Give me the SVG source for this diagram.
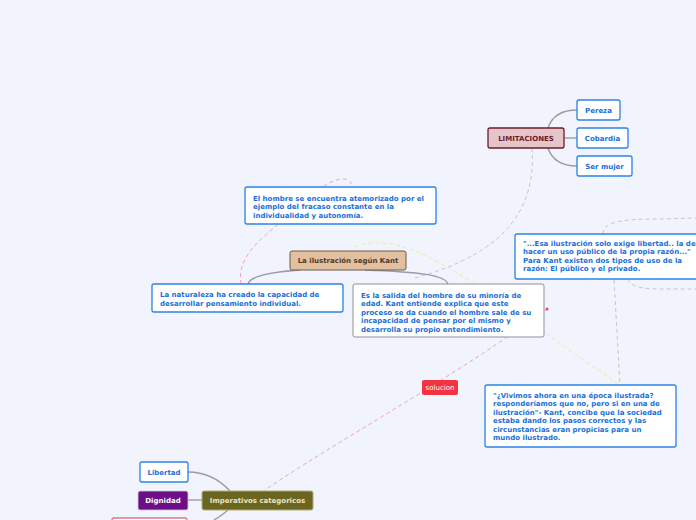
<svg xmlns="http://www.w3.org/2000/svg" width="696" height="520" viewBox="0 0 696 520">
<style>
.t{font-family:"DejaVu Sans",Verdana,sans-serif;font-weight:bold;font-size:7px;fill:#1a6fd8}
.box{fill:#ffffff;stroke:#2b82e6;stroke-width:1.3}
.c{fill:none;stroke:#9b9ba8;stroke-width:1.4}
.dg{fill:none;stroke:#c4c6d0;stroke-width:1;stroke-dasharray:4 3}
.dp{fill:none;stroke:#f0a4c4;stroke-width:1;stroke-dasharray:4 3}
.dy{fill:none;stroke:#f3ea9a;stroke-width:1;stroke-dasharray:4 3}
.ctr{text-anchor:middle}
</style>
<rect width="696" height="520" fill="#f1f4fc"/>
<g id="connectors">
<path class="dg" d="M532,148 C536,205 510,252 415,278"/>
<path class="dy" d="M355,247 C410,225 480,290 620,385"/>
<path class="dg" d="M614,280 L620,385"/>
<path class="dg" d="M603,234 C603,222 620,219 660,219 L696,218"/>
<path class="dg" d="M628,279 C630,286 640,289 660,289 L696,289"/>
<path class="dp" d="M241,284 C236,255 265,235 290,215 C315,195 325,180 343,179 C352,179 352,184 350,188"/>
<path class="dp" d="M262,492 C330,445 450,380 547,309"/>
<circle cx="547" cy="309" r="1.5" fill="#f04060"/>
<path class="c" d="M548,128 C552,116 562,110 577,110"/>
<path class="c" d="M564,138 L577,138"/>
<path class="c" d="M548,148 C552,160 562,166 577,166"/>
<path class="c" d="M248,284 C250,276 270,272 300,270"/>
<path class="c" d="M365,270 C420,272 445,275 448,284"/>
<path class="c" d="M188,472 C205,472 218,478 230,491"/>
<path class="c" d="M188,500 L202,500"/>
<path class="c" d="M228,510 C222,515 218,518 214,520"/>
</g>
<g id="limitaciones">
<rect x="488" y="128" width="76" height="20" rx="2" fill="#e6c5ca" stroke="#6e1b2c" stroke-width="1.3"/>
<text x="526" y="140.5" class="t ctr" style="fill:#6e1b2c">LIMITACIONES</text>
</g>
<g id="pereza">
<rect x="577" y="100" width="43" height="20" rx="2" class="box"/>
<text x="598.5" y="112.5" class="t ctr">Pereza</text>
</g>
<g id="cobardia">
<rect x="577" y="128" width="51" height="20" rx="2" class="box"/>
<text x="602.5" y="140.5" class="t ctr">Cobardia</text>
</g>
<g id="ser-mujer">
<rect x="577" y="156" width="55" height="20" rx="2" class="box"/>
<text x="604.5" y="168.5" class="t ctr">Ser mujer</text>
</g>
<g id="hombre">
<rect x="245" y="187" width="191" height="37" rx="2" class="box"/>
<text class="t"><tspan x="253" y="200.5">El hombre se encuentra atemorizado por el</tspan><tspan x="253" y="209">ejemplo del fracaso constante en la</tspan><tspan x="253" y="217.5">individualidad y autonomía.</tspan></text>
</g>
<g id="central">
<rect x="290" y="251" width="116" height="19" rx="2" fill="#e2bf9f" stroke="#6b5a48" stroke-width="1"/>
<text x="348" y="263" class="t ctr" style="fill:#4d3a28">La ilustración según Kant</text>
</g>
<g id="naturaleza">
<rect x="152" y="284" width="191" height="28" rx="2" class="box"/>
<text class="t"><tspan x="160" y="297">La naturaleza ha creado la capacidad de</tspan><tspan x="160" y="305.5">desarrollar pensamiento individual.</tspan></text>
</g>
<g id="salida">
<rect x="353" y="284" width="191" height="53" rx="2" fill="#ffffff" stroke="#8e8e9e" stroke-width="1"/>
<text class="t"><tspan x="361" y="297.5">Es la salida del hombre de su minoría de</tspan><tspan x="361" y="306">edad. Kant entiende explica que este</tspan><tspan x="361" y="314.5">proceso se da cuando el hombre sale de su</tspan><tspan x="361" y="323">incapacidad de pensar por el mismo y</tspan><tspan x="361" y="331.5">desarrolla su propio entendimiento.</tspan></text>
</g>
<g id="esa-ilustracion">
<rect x="515" y="234" width="190" height="45" rx="2" class="box"/>
<text class="t"><tspan x="523" y="245.5">"...Esa ilustración solo exige libertad.. la de</tspan><tspan x="523" y="254">hacer un uso público de la propia razón..."</tspan><tspan x="523" y="262.5">Para Kant existen dos tipos de uso de la</tspan><tspan x="523" y="271">razón: El público y el privado.</tspan></text>
</g>
<g id="vivimos">
<rect x="485" y="385" width="191" height="62" rx="2" class="box"/>
<text class="t"><tspan x="493" y="397.5">"¿Vivimos ahora en una época ilustrada?</tspan><tspan x="493" y="406">responderíamos que no, pero si en una de</tspan><tspan x="493" y="414.5">ilustración"- Kant, concibe que la sociedad</tspan><tspan x="493" y="423">estaba dando los pasos correctos y las</tspan><tspan x="493" y="431.5">circunstancias eran propicias para un</tspan><tspan x="493" y="440">mundo ilustrado.</tspan></text>
</g>
<g id="solucion">
<rect x="422" y="380" width="36" height="15" rx="2" fill="#f23341"/>
<text x="440" y="390.3" class="t ctr" style="fill:#ffffff;font-weight:normal">solucion</text>
</g>
<g id="imperativos">
<rect x="202" y="491" width="111" height="19" rx="2" fill="#6b6520" stroke="#b0ac78" stroke-width="1"/>
<text x="257.5" y="503" class="t ctr" style="fill:#ebe6c4">Imperativos categoricos</text>
</g>
<g id="libertad">
<rect x="140" y="462" width="48" height="20" rx="2" class="box"/>
<text x="164" y="474.5" class="t ctr">Libertad</text>
</g>
<g id="dignidad">
<rect x="138" y="491" width="50" height="19" rx="2" fill="#6d0f88" stroke="#d8c8e0" stroke-width="0.8"/>
<text x="163" y="503" class="t ctr" style="fill:#ffffff">Dignidad</text>
</g>
<g id="partial-node">
<rect x="112" y="518" width="75" height="20" rx="2" fill="#ffffff" stroke="#d87a86" stroke-width="1.3"/>
</g>
</svg>
